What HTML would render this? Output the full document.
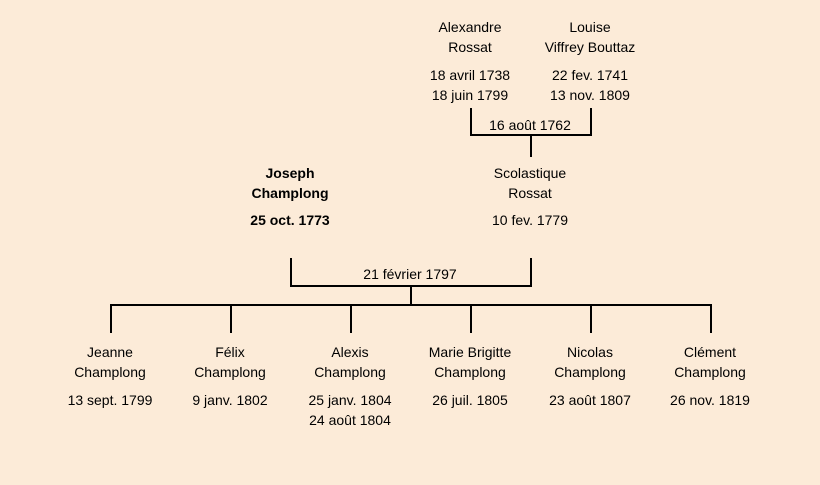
<!DOCTYPE html>
<html><head><meta charset="utf-8"><style>
html,body{margin:0;padding:0}
body{width:820px;height:485px;background:#fcebd8;position:relative;overflow:hidden;font-family:"Comic Sans MS","Liberation Sans",sans-serif;font-size:14px;color:#000}
.t{position:absolute;width:160px;text-align:center;line-height:20px;white-space:nowrap}
.l{position:absolute;background:#000}
b{font-weight:bold}
</style></head><body>
<div class="l" style="left:470px;top:108px;width:2px;height:28px"></div>
<div class="l" style="left:590px;top:108px;width:2px;height:28px"></div>
<div class="l" style="left:470px;top:134px;width:122px;height:2px"></div>
<div class="l" style="left:530px;top:134px;width:2px;height:23px"></div>

<div class="l" style="left:290px;top:258px;width:2px;height:29px"></div>
<div class="l" style="left:530px;top:258px;width:2px;height:29px"></div>
<div class="l" style="left:290px;top:285px;width:242px;height:2px"></div>
<div class="l" style="left:410px;top:285px;width:2px;height:21px"></div>
<div class="l" style="left:110px;top:304px;width:602px;height:2px"></div>
<div class="l" style="left:110px;top:304px;width:2px;height:29px"></div>
<div class="l" style="left:230px;top:304px;width:2px;height:29px"></div>
<div class="l" style="left:350px;top:304px;width:2px;height:29px"></div>
<div class="l" style="left:470px;top:304px;width:2px;height:29px"></div>
<div class="l" style="left:590px;top:304px;width:2px;height:29px"></div>
<div class="l" style="left:710px;top:304px;width:2px;height:29px"></div>

<div class="t" style="left:390px;top:17px">Alexandre<br>Rossat</div>
<div class="t" style="left:390px;top:65px">18 avril 1738<br>18 juin 1799</div>
<div class="t" style="left:510px;top:17px">Louise<br>Viffrey Bouttaz</div>
<div class="t" style="left:510px;top:65px">22 fev. 1741<br>13 nov. 1809</div>
<div class="t" style="left:450px;top:115px">16 août 1762</div>

<div class="t" style="left:210px;top:163px"><b>Joseph<br>Champlong</b></div>
<div class="t" style="left:210px;top:210px"><b>25 oct. 1773</b></div>
<div class="t" style="left:450px;top:163px">Scolastique<br>Rossat</div>
<div class="t" style="left:450px;top:210px">10 fev. 1779</div>
<div class="t" style="left:330px;top:264px">21 février 1797</div>

<div class="t" style="left:30px;top:342px">Jeanne<br>Champlong</div>
<div class="t" style="left:30px;top:390px">13 sept. 1799</div>
<div class="t" style="left:150px;top:342px">Félix<br>Champlong</div>
<div class="t" style="left:150px;top:390px">9 janv. 1802</div>
<div class="t" style="left:270px;top:342px">Alexis<br>Champlong</div>
<div class="t" style="left:270px;top:390px">25 janv. 1804<br>24 août 1804</div>
<div class="t" style="left:390px;top:342px">Marie Brigitte<br>Champlong</div>
<div class="t" style="left:390px;top:390px">26 juil. 1805</div>
<div class="t" style="left:510px;top:342px">Nicolas<br>Champlong</div>
<div class="t" style="left:510px;top:390px">23 août 1807</div>
<div class="t" style="left:630px;top:342px">Clément<br>Champlong</div>
<div class="t" style="left:630px;top:390px">26 nov. 1819</div>
</body></html>
